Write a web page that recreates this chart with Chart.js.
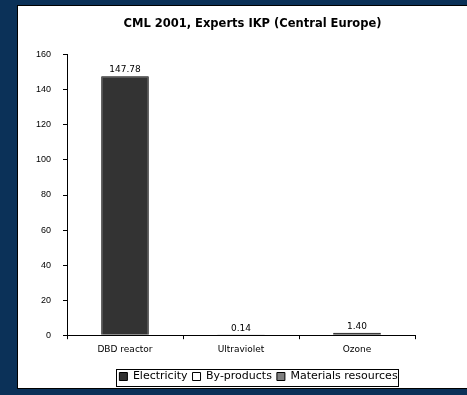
<!DOCTYPE html>
<html>
<head>
<meta charset="utf-8">
<script src="https://cdn.jsdelivr.net/npm/chart.js@4/dist/chart.umd.min.js"></script>
<style>
  html, body { margin: 0; padding: 0; background: #0b3158; width: 467px; height: 395px; overflow: hidden; }
  #panel {
    position: absolute; left: 17px; top: 5px; width: 449px; height: 382px;
    background: #fff; border: 1px solid #000; border-right: none;
  }
  canvas { display: block; }
</style>
</head>
<body>
<div id="panel"><canvas id="impactChart" width="449" height="382"></canvas></div>
<script>
// Impact scores per process, one array per contribution
const processes = ['DBD reactor', 'Ultraviolet', 'Ozone'];
const electricity = [147.78, 0.14, 1.40];
const byProducts = [0, 0, 0];
const materialsResources = [0, 0, 0];
const yTicks = [0, 20, 40, 60, 80, 100, 120, 140, 160];

const wideFont = '"DejaVu Sans", Arial';

// no outline on empty segments
const outline = c => (c.type === 'data' && !c.raw) ? 0 : 1;

// writes the stack total above each bar
const totalLabels = {
    id: 'totalLabels',
    afterDatasetsDraw(chart) {
        const ctx = chart.ctx;
        const yScale = chart.scales.y;
        const meta = chart.getDatasetMeta(0);
        ctx.save();
        ctx.font = '9px ' + wideFont;
        ctx.fillStyle = '#000';
        ctx.textAlign = 'center';
        ctx.textBaseline = 'bottom';
        processes.forEach((p, i) => {
            const total = electricity[i] + byProducts[i] + materialsResources[i];
            const x = meta.data[i].x;
            const y = yScale.getPixelForValue(total);
            ctx.fillText(total.toFixed(2), x, y - 2);
        });
        ctx.restore();
    }
};

// nudge title and legend sideways/down a little from their default spots
const nudge = {
    id: 'nudge',
    afterLayout(chart) {
        const t = chart.titleBlock;
        t.left += 10; t.right += 10;
        const lg = chart.legend;
        lg.left += 16; lg.right += 16;
        lg.top += 4; lg.bottom += 4;
    }
};

// thin frame round the legend entries
const legendFrame = {
    id: 'legendFrame',
    afterDraw(chart) {
        const boxes = chart.legend.legendHitBoxes;
        if (!boxes || !boxes.length) return;
        const first = boxes[0];
        const last = boxes[boxes.length - 1];
        const ctx = chart.ctx;
        ctx.save();
        ctx.strokeStyle = '#000';
        ctx.lineWidth = 1;
        const left = Math.round(first.left) - 2.5;
        const right = Math.round(last.left + last.width) + 0.5;
        const top = Math.round(first.top) - 1.5;
        ctx.strokeRect(left, top, right - left, 17);
        ctx.restore();
    }
};

const ctx = document.getElementById('impactChart').getContext('2d');
new Chart(ctx, {
    type: 'bar',
    data: {
        labels: processes,
        datasets: [{
            label: 'Electricity',
            data: electricity,
            backgroundColor: '#333333',
            borderColor: '#000',
            borderWidth: outline
        }, {
            label: 'By-products',
            data: byProducts,
            backgroundColor: '#ffffff',
            borderColor: '#000',
            borderWidth: outline
        }, {
            label: 'Materials resources',
            data: materialsResources,
            backgroundColor: '#808080',
            borderColor: '#000',
            borderWidth: outline
        }]
    },
    options: {
        responsive: false,
        animation: false,
        layout: { padding: { left: 0, right: 0, top: 0, bottom: 0 } },
        datasets: { bar: { categoryPercentage: 0.41, barPercentage: 1 } },
        plugins: {
            title: {
                display: true,
                text: 'CML 2001, Experts IKP (Central Europe)',
                color: '#000',
                font: { family: wideFont, size: 11.5, weight: 'bold' },
                padding: { top: 11, bottom: 24 }
            },
            legend: {
                position: 'bottom',
                labels: {
                    color: '#000',
                    font: { family: wideFont, size: 11 },
                    boxWidth: 8,
                    boxHeight: 8,
                    padding: 5,
                    // swatches always get a black outline
                    generateLabels(chart) {
                        const items = Chart.defaults.plugins.legend.labels.generateLabels(chart);
                        items.forEach(it => { it.lineWidth = 1; it.strokeStyle = '#000'; });
                        return items;
                    }
                }
            },
            tooltip: { enabled: false }
        },
        scales: {
            x: {
                stacked: true,
                afterFit(scale) { scale.height += 2; },
                grid: { drawOnChartArea: false, drawTicks: true, tickLength: 4, color: '#000', offset: true },
                border: { color: '#000', width: 1 },
                ticks: { color: '#000', font: { family: wideFont, size: 9 }, padding: 5 }
            },
            y: {
                stacked: true,
                min: 0,
                max: 160,
                afterFit(scale) { scale.width = 49; },
                afterBuildTicks(scale) { scale.ticks = yTicks.map(v => ({ value: v })); },
                grid: { drawOnChartArea: false, drawTicks: true, tickLength: 4, color: '#000' },
                border: { color: '#000', width: 1 },
                ticks: { color: '#000', font: { family: 'Arial, "Liberation Sans"', size: 9 }, padding: 12 }
            },
            // empty right-hand gutter so the plot ends short of the panel edge
            gutter: {
                type: 'linear',
                position: 'right',
                display: true,
                afterFit(scale) { scale.width = 52; },
                grid: { display: false },
                border: { display: false },
                ticks: { display: false }
            }
        }
    },
    plugins: [nudge, totalLabels, legendFrame]
});
</script>
</body>
</html>
